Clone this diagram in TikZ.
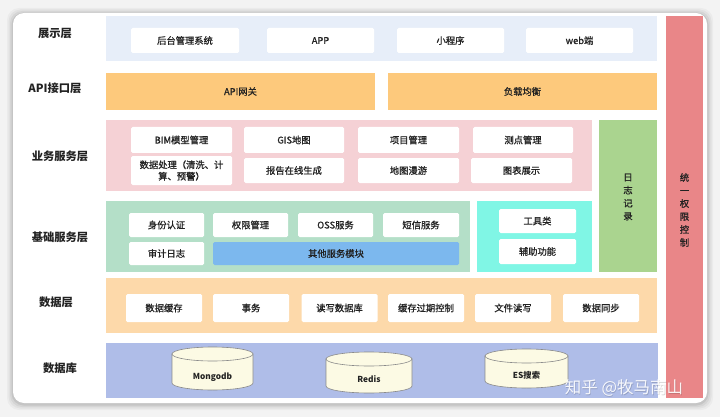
\documentclass[tikz,border=0pt]{standalone}
\usepackage{fontspec}
\setmainfont{Noto Sans CJK SC}
\newfontfamily\medfont[FakeBold=0.9]{Noto Sans CJK SC}
\definecolor{txt}{HTML}{222222}
\definecolor{pagebg}{HTML}{F3F3F3}
\definecolor{showbg}{HTML}{E7EEF9}
\definecolor{apibg}{HTML}{FDC97C}
\definecolor{bizbg}{HTML}{F5D1D5}
\definecolor{logbg}{HTML}{AAD48F}
\definecolor{basebg}{HTML}{B4DFC8}
\definecolor{toolbg}{HTML}{80F6E5}
\definecolor{otherbg}{HTML}{7CB8EE}
\definecolor{databg}{HTML}{FDD9AA}
\definecolor{dbbg}{HTML}{AFBDE8}
\definecolor{authbg}{HTML}{E98688}
\definecolor{cylf}{HTML}{FCFAE4}
\definecolor{cyld}{HTML}{8A8A8A}
\newcommand\dbcyl[7]{% name, cx, top centre y, bottom centre y, rx, text y, text
  \pgfmathsetmacro\cxl{#2-#5}\pgfmathsetmacro\cxr{#2+#5}%
  \pgfmathsetmacro\kx{0.5523*#5}\pgfmathsetmacro\bry{#4+7}\pgfmathsetmacro\bk{#4+0.5523*7}%
  \filldraw[fill=cylf,draw=cyld,line width=0.6pt]
    (\cxl,#3) -- (\cxl,#4) .. controls (\cxl,\bk) and (#2-\kx,\bry) .. (#2,\bry)
    .. controls (#2+\kx,\bry) and (\cxr,\bk) .. (\cxr,#4) -- (\cxr,#3) -- cycle;
  \filldraw[fill=cylf,draw=cyld,line width=0.6pt] (#2,#3) ellipse [x radius=#5, y radius=7];
  \node[cyltext] (#1) at (#2,#6) {#7};
}
\begin{document}
\begin{tikzpicture}[x=1pt,y=-1pt,
  lbl/.style={font=\fontsize{11.3}{13}\selectfont\bfseries, text=txt, inner sep=0pt},
  band/.style={draw=none, inner sep=0pt, outer sep=0pt},
  box/.style={fill=white, draw=none, rounded corners=1.5pt, inner sep=0pt,
    font=\medfont\fontsize{9.3}{11}\selectfont, text=txt, align=center},
  bandtext/.style={font=\medfont\fontsize{9.3}{11}\selectfont, text=txt},
  vtext/.style={font=\medfont\fontsize{9.3}{13}\selectfont, text=txt, align=center, inner sep=0pt},
  cyltext/.style={font=\fontsize{8.3}{10}\selectfont\bfseries, text=txt, inner sep=0pt}]
\useasboundingbox (0,0) rectangle (720,417);
\fill[pagebg] (0,0) rectangle (720,417);
% soft shadow of the card
\foreach \d/\o in {6/0.03,4.5/0.04,3/0.05,1.5/0.07}{
  \fill[black,opacity=\o,rounded corners=12pt] (13-\d,13-\d+1) rectangle (707+\d,403+\d+1);
}
\fill[white,rounded corners=11pt] (13,13) rectangle (707,403);

% layer bands
\node[band,fill=showbg,minimum width=551pt,minimum height=45pt] (show) at (381.5,38.5) {};
\node[band,fill=apibg,minimum width=269pt,minimum height=37pt] (gw) at (240.5,91.5) {};
\node[band,fill=apibg,minimum width=269pt,minimum height=37pt] (lb) at (522.5,91.5) {};
\node[band,fill=bizbg,minimum width=486pt,minimum height=71pt] (biz) at (349,155.5) {};
\node[band,fill=logbg,minimum width=58pt,minimum height=152pt] (log) at (628,196) {};
\node[band,fill=basebg,minimum width=364pt,minimum height=71pt] (base) at (288,236.5) {};
\node[band,fill=toolbg,minimum width=115pt,minimum height=71pt] (tools) at (534.5,236.5) {};
\node[band,fill=databg,minimum width=551pt,minimum height=55pt] (data) at (381.5,305.5) {};
\node[band,fill=dbbg,minimum width=552pt,minimum height=55pt] (db) at (382,370.5) {};
\node[band,fill=authbg,minimum width=37pt,minimum height=382pt] (auth) at (684.5,207) {};

% band texts
\node[bandtext] (gwt) at (gw) {API网关};
\node[bandtext] (lbt) at (lb) {负载均衡};
\node[vtext] (logt) at (628,197) {日\\志\\记\\录};
\node[vtext] (autht) at (684.5,210) {统\\一\\权\\限\\控\\制};

% left labels
\node[lbl] (l1) at (55,33) {展示层};
\node[lbl] (l2) at (55,88) {API接口层};
\node[lbl] (l3) at (60,156) {业务服务层};
\node[lbl] (l4) at (60,237) {基础服务层};
\node[lbl] (l5) at (56,302) {数据层};
\node[lbl] (l6) at (60,368) {数据库};

% 展示层
\node[box,minimum width=108pt,minimum height=25pt] (s1) at (185,40.5) {后台管理系统};
\node[box,minimum width=107pt,minimum height=25pt] (s2) at (320.5,40.5) {APP};
\node[box,minimum width=107pt,minimum height=25pt] (s3) at (450.5,40.5) {小程序};
\node[box,minimum width=107pt,minimum height=25pt] (s4) at (579.5,40.5) {web端};

% 业务服务层
\node[box,minimum width=101pt,minimum height=26pt] (b1) at (181.5,140) {BIM模型管理};
\node[box,minimum width=100pt,minimum height=26pt] (b2) at (294,140) {GIS地图};
\node[box,minimum width=101pt,minimum height=26pt] (b3) at (408.5,140) {项目管理};
\node[box,minimum width=100pt,minimum height=26pt] (b4) at (523,140) {测点管理};
\node[box,minimum width=101pt,minimum height=29pt,font=\medfont\fontsize{9.3}{11.5}\selectfont] (b5) at (181.5,170.5) {数据处理（清洗、计\\算、预警）};
\node[box,minimum width=100pt,minimum height=25pt] (b6) at (294,170.5) {报告在线生成};
\node[box,minimum width=101pt,minimum height=25pt] (b7) at (408.5,170.5) {地图漫游};
\node[box,minimum width=101pt,minimum height=25pt] (b8) at (521.5,170.5) {图表展示};

% 基础服务层
\node[box,minimum width=75pt,minimum height=24pt] (f1) at (166.5,225) {身份认证};
\node[box,minimum width=75pt,minimum height=24pt] (f2) at (250.5,225) {权限管理};
\node[box,minimum width=75pt,minimum height=24pt] (f3) at (335.5,225) {OSS服务};
\node[box,minimum width=76pt,minimum height=24pt] (f4) at (421,225) {短信服务};
\node[box,minimum width=75pt,minimum height=23pt] (f5) at (166.5,253.5) {审计日志};
\node[box,fill=otherbg,minimum width=246pt,minimum height=23pt] (f6) at (336,253.5) {其他服务模块};
\node[box,minimum width=77pt,minimum height=24pt] (t1) at (537.5,221) {工具类};
\node[box,minimum width=77pt,minimum height=25pt] (t2) at (537.5,251.5) {辅助功能};

% 数据层
\node[box,minimum width=76pt,minimum height=28pt] (d1) at (164,308) {数据缓存};
\node[box,minimum width=76pt,minimum height=28pt] (d2) at (251,308) {事务};
\node[box,minimum width=76pt,minimum height=28pt] (d3) at (339.5,308) {读写数据库};
\node[box,minimum width=76pt,minimum height=28pt] (d4) at (426,308) {缓存过期控制};
\node[box,minimum width=76pt,minimum height=28pt] (d5) at (513,308) {文件读写};
\node[box,minimum width=76pt,minimum height=28pt] (d6) at (601,308) {数据同步};

% 数据库
\dbcyl{c1}{212.5}{354}{383}{40.5}{377}{Mongodb}
\dbcyl{c2}{369}{359}{386}{43}{379}{Redis}
\dbcyl{c3}{526.5}{356}{381}{41.5}{375}{ES搜索}

% watermark
\node[font=\fontsize{16.5}{18}\selectfont, text=black, opacity=0.15, inner sep=0pt] (wms) at (624.6,388.6) {知乎 @牧马南山};
\node[font=\fontsize{16.5}{18}\selectfont, text=white, opacity=0.9, inner sep=0pt] (wm) at (624,388) {知乎 @牧马南山};
\end{tikzpicture}
\end{document}
